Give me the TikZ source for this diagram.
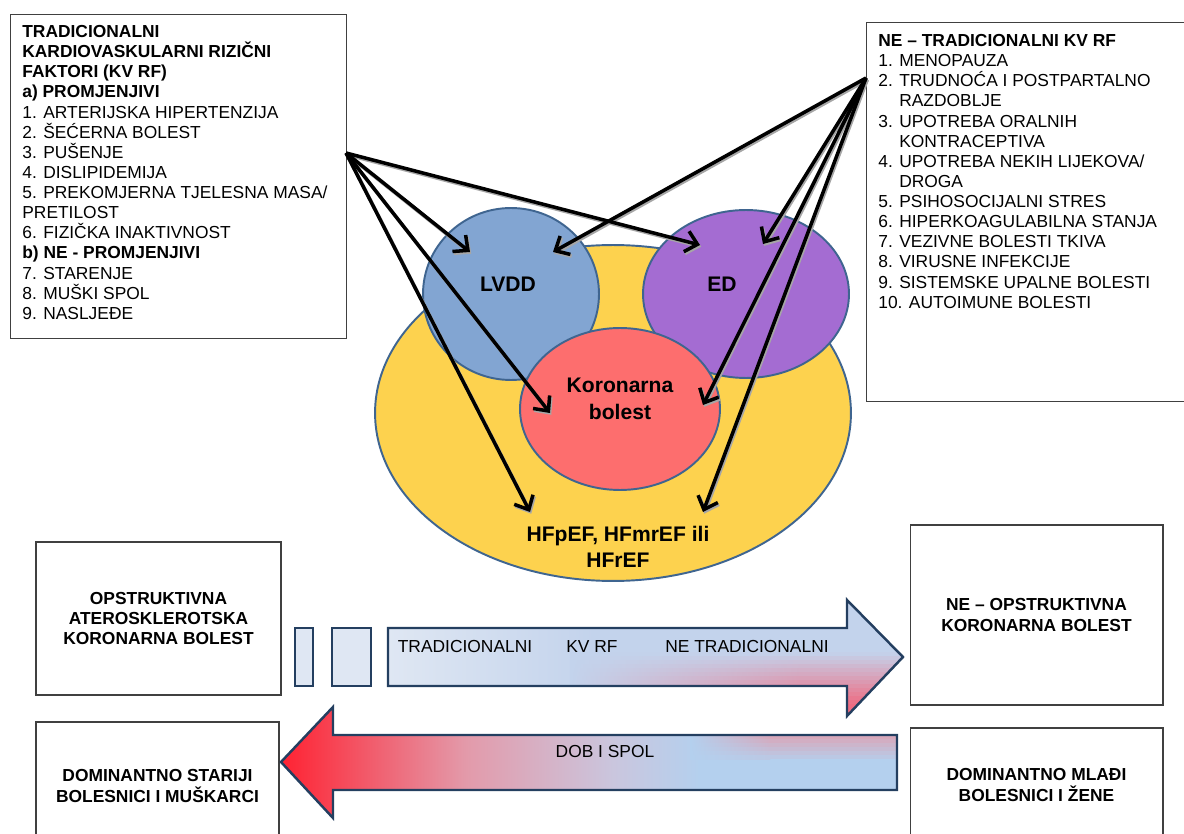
\documentclass[tikz,border=0pt]{standalone}
\usepackage{fontspec}
\setmainfont{Liberation Sans}
\usetikzlibrary{shapes.geometric,arrows.meta}
\definecolor{venyellow}{HTML}{FDD24E}
\definecolor{venblue}{HTML}{82A5D2}
\definecolor{venpurple}{HTML}{A46CD2}
\definecolor{venred}{HTML}{FD6E6E}
\definecolor{venedge}{HTML}{3F6590}
\definecolor{arredge}{HTML}{243F60}
\definecolor{arrlight}{HTML}{DFE7F3}
\definecolor{arrblue}{HTML}{C3D3EC}
\definecolor{arrpink}{HTML}{EE6C82}
\definecolor{dobred}{HTML}{FF2232}
\definecolor{dobpink}{HTML}{E39AAA}
\definecolor{doblav}{HTML}{CAC6DE}
\definecolor{dobblue}{HTML}{B4D0EE}
\newcommand\listfont{\fontsize{9.9}{11.46}\selectfont}
\pgfdeclarehorizontalshading{tradshade}{100bp}{color(0bp)=(arrlight); color(25bp)=(arrlight); color(45bp)=(arrblue); color(100bp)=(arrblue)}
\pgfdeclarehorizontalshading{dobshade}{100bp}{color(0bp)=(dobred); color(25bp)=(dobred); color(40bp)=(dobpink); color(52bp)=(doblav); color(59bp)=(dobblue); color(75bp)=(dobblue); color(100bp)=(dobblue)}

\begin{document}
\begin{tikzpicture}[x=0.02cm, y=-0.02cm,
    venn/.style={ellipse, draw=venedge, line width=1.1pt, inner sep=0pt},
    venlabel/.style={font=\fontsize{12}{15}\selectfont\bfseries, align=center},
    listbox/.style={draw=black!75, line width=0.6pt, inner sep=0pt, anchor=north west},
    listtext/.style={font=\listfont, align=left, anchor=north west, inner sep=0pt},
    groupbox/.style={draw=black!75, line width=0.6pt, font=\listfont\bfseries, align=center, inner sep=0pt},
    riskarrow/.style={-{Straight Barb[length=6.5pt,width=12pt]}, line width=2pt},
    bigarrow/.style={draw=arredge, line width=1.4pt, line join=miter},
    bartext/.style={font=\listfont, inner sep=0pt}
  ]
  \useasboundingbox (0,0) rectangle (1184,834);
  \clip (0,0) rectangle (1184,834);

  % risk factor lists
  \node[listbox, minimum width=6.72cm, minimum height=6.48cm] (tradbox) at (10,14) {};
  \node[listtext] (tradtxt) at (22,25) {\textbf{TRADICIONALNI}\\
    \textbf{KARDIOVASKULARNI RIZIČNI}\\
    \textbf{FAKTORI (KV RF)}\\
    \textbf{a) PROMJENJIVI}\\
    1. ARTERIJSKA HIPERTENZIJA\\
    2. ŠEĆERNA BOLEST\\
    3. PUŠENJE\\
    4. DISLIPIDEMIJA\\
    5. PREKOMJERNA TJELESNA MASA/\\
    PRETILOST\\
    6. FIZIČKA INAKTIVNOST\\
    \textbf{b) NE - PROMJENJIVI}\\
    7. STARENJE\\
    8. MUŠKI SPOL\\
    9. NASLJEĐE};

  \node[listbox, minimum width=6.8cm, minimum height=7.58cm] (nontradbox) at (866,22) {};
  \node[listtext] (nontradtxt) at (878,34) {\textbf{NE – TRADICIONALNI KV RF}\\
    1. MENOPAUZA\\
    2. TRUDNOĆA I POSTPARTALNO\\
    \phantom{2. }RAZDOBLJE\\
    3. UPOTREBA ORALNIH\\
    \phantom{3. }KONTRACEPTIVA\\
    4. UPOTREBA NEKIH LIJEKOVA/\\
    \phantom{4. }DROGA\\
    5. PSIHOSOCIJALNI STRES\\
    6. HIPERKOAGULABILNA STANJA\\
    7. VEZIVNE BOLESTI TKIVA\\
    8. VIRUSNE INFEKCIJE\\
    9. SISTEMSKE UPALNE BOLESTI\\
    10. AUTOIMUNE BOLESTI};

  % venn
  \node[venn, fill=venyellow, minimum width=9.52cm, minimum height=6.72cm] (hf) at (613,413) {};
  \node[venn, fill=venblue, minimum width=3.52cm, minimum height=3.44cm] (lvdd) at (511,294) {};
  \node[venn, fill=venpurple, minimum width=4.12cm, minimum height=3.36cm] (ed) at (746,294) {};
  \node[venn, fill=venred, minimum width=4cm, minimum height=3.24cm] (kb) at (620,409) {};

  \node[venlabel] (lvddtxt) at (508,284) {LVDD};
  \node[venlabel] (edtxt) at (722,284) {ED};
  \node[venlabel] (kbtxt) at (620,399) {Koronarna\\bolest};
  \node[venlabel] (hftxt) at (618,547) {HFpEF, HFmrEF ili\\HFrEF};

  % arrows from the lists
  \coordinate (tradsrc) at (346,153);
  \coordinate (nontradsrc) at (866,78);
  \coordinate (lvddA) at (470,252);
  \coordinate (edA) at (700,245);
  \coordinate (kbA) at (550,413);
  \coordinate (hfA) at (530,512);
  \coordinate (lvddB) at (553,252);
  \coordinate (edB) at (763,244);
  \coordinate (kbB) at (703,405);
  \coordinate (hfB) at (703,512);
  \begin{scope}[transform canvas={shift={(0.7pt,-1pt)}}, draw=black!35]
    \foreach \tip in {lvddA,edA,kbA,hfA}
      \draw[riskarrow, black!35] (tradsrc) -- (\tip);
    \foreach \tip in {lvddB,edB,kbB,hfB}
      \draw[riskarrow, black!35] (nontradsrc) -- (\tip);
  \end{scope}
  \foreach \tip in {lvddA,edA,kbA,hfA}
    \draw[riskarrow] (tradsrc) -- (\tip);
  \foreach \tip in {lvddB,edB,kbB,hfB}
    \draw[riskarrow] (nontradsrc) -- (\tip);

  % bottom groups
  \node[groupbox, minimum width=4.9cm, minimum height=3.06cm] (opstr) at (158.5,618.5) {OPSTRUKTIVNA\\ATEROSKLEROTSKA\\KORONARNA BOLEST};
  \node[groupbox, minimum width=4.86cm, minimum height=2.56cm] (stariji) at (157.5,786) {DOMINANTNO STARIJI\\BOLESNICI I MUŠKARCI};
  \node[groupbox, minimum width=5.06cm, minimum height=3.6cm] (neopstr) at (1036.5,615) {NE – OPSTRUKTIVNA\\KORONARNA BOLEST};
  \node[groupbox, minimum width=5.06cm, minimum height=2.28cm] (mladi) at (1036.5,785) {DOMINANTNO MLAĐI\\BOLESNICI I ŽENE};

  % block arrow: kv rf
  \filldraw[bigarrow, fill=arrlight] (295,628) rectangle (313,686);
  \filldraw[bigarrow, fill=arrlight] (332,628) rectangle (371,686);
  \begin{scope}
    \clip (388,628) -- (847,628) -- (847,600) -- (903,657) -- (847,716) -- (847,686) -- (388,686) -- cycle;
    \shade[shading=tradshade] (388,600) rectangle (903,716);
    \foreach \y in {652,656,...,712}{
      \pgfmathtruncatemacro\f{min(100,(\y-650)*1.9)}
      \shade[left color=arrblue, right color=arrpink!\f!arrblue] (570,\y) rectangle (800,\y+4.4);
      \fill[arrpink!\f!arrblue] (799,\y) rectangle (903,\y+4.4);
    }
  \end{scope}
  \draw[bigarrow] (388,628) -- (847,628) -- (847,600) -- (903,657) -- (847,716) -- (847,686) -- (388,686) -- cycle;
  \node[bartext] (tradlbl) at (465,647) {TRADICIONALNI};
  \node[bartext] (kvlbl) at (592,647) {KV RF};
  \node[bartext] (netradlbl) at (747,647) {NE TRADICIONALNI};

  % block arrow: dob i spol
  \begin{scope}
    \clip (897,735) -- (333,735) -- (333,707) -- (281,762) -- (333,818) -- (333,790) -- (897,790) -- cycle;
    \shade[shading=dobshade] (281,707) rectangle (897,818);
    \foreach \y in {735,739,...,755}{
      \pgfmathtruncatemacro\f{max(0,(760-\y)*3)}
      \shade[left color=dobblue, right color=dobpink!\f!dobblue] (690,\y) rectangle (770,\y+4.4);
      \fill[dobpink!\f!dobblue] (769,\y) rectangle (897,\y+4.4);
    }
  \end{scope}
  \draw[bigarrow] (897,735) -- (333,735) -- (333,707) -- (281,762) -- (333,818) -- (333,790) -- (897,790) -- cycle;
  \node[bartext] (doblbl) at (605,752) {DOB I SPOL};
\end{tikzpicture}
\end{document}
